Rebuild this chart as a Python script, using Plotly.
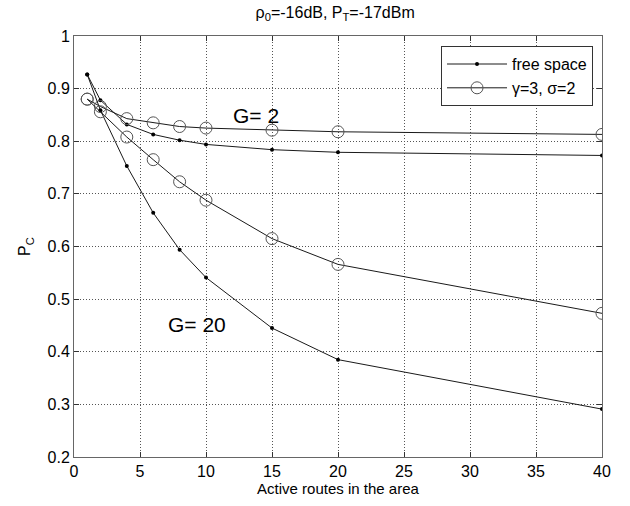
import plotly.graph_objects as go

x_routes = [1, 2, 4, 6, 8, 10, 15, 20, 40]
fs_g2 = [0.927, 0.878, 0.832, 0.813, 0.802, 0.794, 0.784, 0.779, 0.773]
fs_g20 = [0.927, 0.859, 0.753, 0.664, 0.594, 0.541, 0.445, 0.385, 0.291]
sh_g2 = [0.880, 0.866, 0.843, 0.835, 0.828, 0.825, 0.821, 0.818, 0.813]
sh_g20 = [0.880, 0.856, 0.808, 0.765, 0.723, 0.688, 0.615, 0.566, 0.473]
x_ticks = [0, 5, 10, 15, 20, 25, 30, 35, 40]
y_ticks = [0.2, 0.3, 0.4, 0.5, 0.6, 0.7, 0.8, 0.9, 1.0]
y_ticktext = ["0.2", "0.3", "0.4", "0.5", "0.6", "0.7", "0.8", "0.9", "1"]

FONT = "Liberation Sans, Arial, sans-serif"
LINE_C = "#1a1a1a"
CIRC_C = "#555555"

fig = go.Figure()
fig.add_trace(go.Scatter(x=x_routes, y=fs_g2, mode="lines+markers", name="free space",
                         line=dict(color=LINE_C, width=1), marker=dict(size=4, color="black"),
                         showlegend=True, legendrank=1))
fig.add_trace(go.Scatter(x=x_routes, y=sh_g2, mode="lines+markers", name="\u03b3=3, \u03c3=2",
                         line=dict(color=LINE_C, width=1),
                         marker=dict(symbol="circle-open", size=12, color=CIRC_C, line=dict(width=1)),
                         showlegend=True, legendrank=2))
fig.add_trace(go.Scatter(x=x_routes, y=fs_g20, mode="lines+markers", name="free space",
                         line=dict(color=LINE_C, width=1), marker=dict(size=4, color="black"),
                         showlegend=False))
fig.add_trace(go.Scatter(x=x_routes, y=sh_g20, mode="lines+markers", name="\u03b3=3, \u03c3=2",
                         line=dict(color=LINE_C, width=1),
                         marker=dict(symbol="circle-open", size=12, color=CIRC_C, line=dict(width=1)),
                         showlegend=False))

fig.add_annotation(x=13.8, y=0.848, text="G= 2", showarrow=False,
                   font=dict(family=FONT, size=21, color="black"))
fig.add_annotation(x=9.3, y=0.452, text="G= 20", showarrow=False,
                   font=dict(family=FONT, size=21, color="black"))

axis_common = dict(showline=True, linecolor="#666666", linewidth=1, mirror="allticks",
                   ticks="inside", ticklen=5, tickcolor="#333333",
                   showgrid=True, gridcolor="#555555", griddash="1px,2px", gridwidth=1,
                   zeroline=False, tickfont=dict(family=FONT, size=16, color="black"))

fig.update_xaxes(range=[0, 40], tickvals=x_ticks,
                 title=dict(text="Active routes in the area", font=dict(family=FONT, size=15, color="black"), standoff=4),
                 **axis_common)
fig.update_yaxes(range=[0.2, 1.0], tickvals=y_ticks, ticktext=y_ticktext,
                 title=dict(text="P<sub>C</sub>", font=dict(family=FONT, size=16, color="black"), standoff=12),
                 **axis_common)

fig.update_layout(
    width=630, height=506,
    margin=dict(l=74, r=28, t=36, b=49),
    paper_bgcolor="white", plot_bgcolor="white",
    title=dict(text="\u03c1<sub>0</sub>=-16dB, P<sub>T</sub>=-17dBm", x=0.532, xanchor="center",
               y=0.976, yanchor="middle", font=dict(family=FONT, size=16, color="black")),
    legend=dict(x=0.983, y=0.976, xanchor="right", yanchor="top", bgcolor="white",
                bordercolor="#333333", borderwidth=1, font=dict(family=FONT, size=16, color="black"),
                tracegroupgap=0, itemwidth=60),
    font=dict(family=FONT, color="black"),
)

fig.write_html("out.html")
